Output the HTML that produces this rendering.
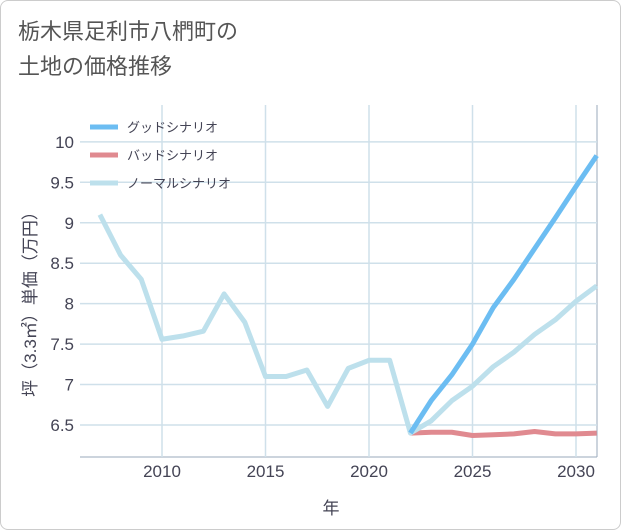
<!DOCTYPE html>
<html><head><meta charset="utf-8"><style>
body{margin:0;background:#fff;font-family:"Liberation Sans","Noto Sans CJK JP",sans-serif;}
.card{position:absolute;left:0;top:0;width:619px;height:528px;border:1px solid #ccc;border-radius:8px;background:#fff;}
.title{position:absolute;left:18px;top:14px;font-size:22px;line-height:35px;color:#555;}
</style></head><body>
<div class="card"></div>
<div class="title">栃木県足利市八椚町の<br>土地の価格推移</div>
<svg id="c" width="621" height="530" style="position:absolute;left:0;top:0"></svg>
<script>
const years=[2007,2008,2009,2010,2011,2012,2013,2014,2015,2016,2017,2018,2019,2020,2021,2022,2023,2024,2025,2026,2027,2028,2029,2030,2031];
const normal=[9.1,8.6,8.3,7.56,7.6,7.66,8.12,7.77,7.1,7.1,7.18,6.73,7.2,7.3,7.3,6.4,6.55,6.8,6.98,7.22,7.4,7.62,7.8,8.03,8.22];
const goodYears=[2022,2023,2024,2025,2026,2027,2028,2029,2030,2031];
const good=[6.4,6.8,7.12,7.5,7.95,8.3,8.68,9.06,9.45,9.83];
const bad=[6.4,6.41,6.41,6.37,6.38,6.39,6.42,6.39,6.39,6.4];
const xTicks=[2010,2015,2020,2025,2030];
const yTicks=[6.5,7,7.5,8,8.5,9,9.5,10];
const L=80,R=597,T=105,B=457;
const x=v=>162+(v-2010)*20.7;
const y=v=>425-(v-6.5)*80.9;
const s=document.getElementById('c');const NS='http://www.w3.org/2000/svg';
function el(t,a,p){const e=document.createElementNS(NS,t);for(const k in a)e.setAttribute(k,a[k]);(p||s).appendChild(e);return e;}
el('line',{x1:L,y1:B,x2:R,y2:B,stroke:'#9ab',['stroke-width']:1});
el('line',{x1:R,y1:T,x2:R,y2:B,stroke:'#9ab',['stroke-width']:1});
yTicks.forEach(v=>{const g=el('line',{x1:L,x2:R,y1:y(v),y2:y(v),stroke:'#cfe0ea','stroke-width':1.5});

const t=el('text',{x:74,y:y(v)+6,'text-anchor':'end','font-size':17,fill:'#445'});t.textContent=v;
});
xTicks.forEach(v=>{const g=el('line',{x1:x(v),x2:x(v),y1:T,y2:B,stroke:'#cfe0ea','stroke-width':1.5});

const t=el('text',{x:x(v),y:477,'text-anchor':'middle','font-size':17,fill:'#445'});t.textContent=v;
});
function line(xs,vs,c,n){const p=el('polyline',{points:xs.map((d,i)=>x(d)+','+y(vs[i])).join(' '),fill:'none',stroke:c,'stroke-width':5,'stroke-linejoin':'round'});
}
line(goodYears,bad,'#e08a90','bad-scenario-line');
line(years,normal,'#bde0ec','normal-scenario-line');
line(goodYears,good,'#6cbdf2','good-scenario-line');
const leg=[['グッドシナリオ','#6cbdf2'],['バッドシナリオ','#e08a90'],['ノーマルシナリオ','#bde0ec']];
leg.forEach((d,i)=>{const g=el('g',{});
el('line',{x1:90,x2:118,y1:127+i*28,y2:127+i*28,stroke:d[1],'stroke-width':5},g);
const t=el('text',{x:127,y:132+i*28,'font-size':13,fill:'#445'},g);t.textContent=d[0];});
const xt=el('text',{x:331,y:514,'text-anchor':'middle','font-size':17,fill:'#445'});xt.textContent='年';

const yt=el('text',{x:0,y:0,'text-anchor':'middle','font-size':17,fill:'#445',transform:'translate(36,300) rotate(-90)'});yt.textContent='坪（3.3㎡）単価（万円）';

</script>
</body></html>
